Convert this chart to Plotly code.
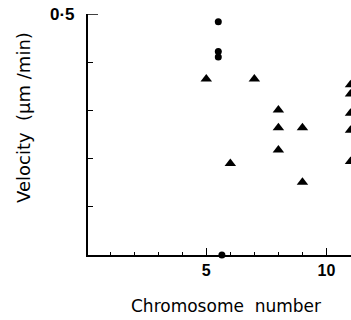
import plotly.graph_objects as go

circle_x = [5.5, 5.5, 5.5, 5.65]
circle_y = [0.484, 0.422, 0.411, 0.0]
triangle_x = [5, 6, 7, 8, 8, 8, 9, 9, 11, 11, 11, 11, 11]
triangle_y = [0.365, 0.19, 0.365, 0.301, 0.264, 0.218, 0.264, 0.151,
              0.353, 0.334, 0.294, 0.259, 0.194]
y_tickvals = [0.1, 0.2, 0.3, 0.4, 0.5]
y_label_text = "0\u00b75"
x_tickvals = [5, 10]
x_ticktext = ["5", "10"]

FONT = "Liberation Sans, Arial, sans-serif"
TFONT = "DejaVu Sans, Verdana, sans-serif"
W, H = 351, 320
L, T, R, B = 88, 14, 0, 320 - 255
PW, PH = W - L - R, H - T - B

fig = go.Figure()
fig.add_trace(go.Scatter(x=triangle_x, y=triangle_y, mode="markers",
                         marker=dict(symbol="triangle-up", size=10, color="black"),
                         cliponaxis=False, showlegend=False, hoverinfo="skip"))
fig.add_trace(go.Scatter(x=circle_x, y=circle_y, mode="markers",
                         marker=dict(symbol="circle", size=7, color="black"),
                         cliponaxis=False, showlegend=False, hoverinfo="skip"))

fig.update_layout(
    width=W, height=H,
    margin=dict(l=L, r=R, t=T, b=B, pad=0),
    paper_bgcolor="white", plot_bgcolor="white",
    font=dict(family=FONT, color="black", size=15),
    xaxis=dict(range=[0.08, 11.02], showgrid=False, zeroline=False,
               showline=True, linecolor="black", linewidth=1.5,
               tickvals=x_tickvals, ticktext=x_ticktext,
               ticks="inside", ticklen=7, tickwidth=1.2, tickcolor="black",
               minor=dict(dtick=1, tick0=0, ticks="inside", ticklen=3,
                          tickwidth=1, tickcolor="black"),
               tickfont=dict(size=16, family=FONT, weight="bold")),
    yaxis=dict(range=[0, 0.5], showgrid=False, zeroline=False,
               showline=True, linecolor="black", linewidth=1.5,
               tickvals=y_tickvals, showticklabels=False,
               ticks="inside", ticklen=5, tickwidth=1.2, tickcolor="black"),
    shapes=[dict(type="line", xref="paper", yref="y", x0=0, x1=10 / PW,
                 y0=y_tickvals[-1], y1=y_tickvals[-1],
                 line=dict(color="black", width=1.5))],
    annotations=[
        dict(text=y_label_text, xref="paper", yref="y",
             x=-(88 - 62) / PW, y=y_tickvals[-1],
             showarrow=False, xanchor="center", yanchor="middle",
             font=dict(size=17, family=FONT, weight="bold")),
        dict(text="Velocity  (\u03bcm /min)", xref="paper", yref="paper",
             x=-(88 - 23) / PW, y=(255 - 118) / PH, textangle=-90,
             showarrow=False, xanchor="center", yanchor="middle",
             font=dict(size=18, family=TFONT)),
        dict(text="Chromosome  number", xref="paper", yref="paper",
             x=(226 - 88) / PW, y=-(306 - 255) / PH,
             showarrow=False, xanchor="center", yanchor="middle",
             font=dict(size=17, family=TFONT)),
    ],
)

fig.write_html("out.html", config={"displayModeBar": False},
               post_script="document.body.style.margin='0';"
                           "document.body.style.overflow='hidden';")
